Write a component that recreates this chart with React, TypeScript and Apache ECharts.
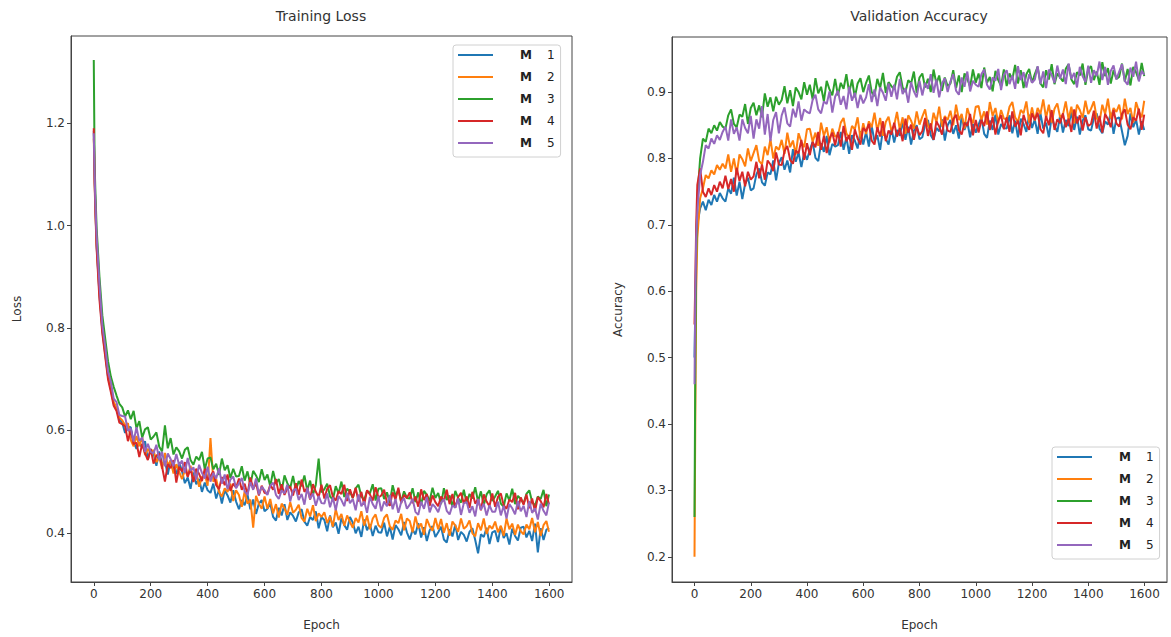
import { useEffect, useRef } from 'react';
import * as echarts from 'echarts';

const epochs = [
  0, 3, 6,
  10, 20, 30, 40, 50, 60, 70, 80, 90, 100,
  110, 120, 130, 140, 150, 160, 170, 180, 190, 200,
  210, 220, 230, 240, 250, 260, 270, 280, 290, 300,
  310, 320, 330, 340, 350, 360, 370, 380, 390, 400,
  410, 420, 430, 440, 450, 460, 470, 480, 490, 500,
  510, 520, 530, 540, 550, 560, 570, 580, 590, 600,
  610, 620, 630, 640, 650, 660, 670, 680, 690, 700,
  710, 720, 730, 740, 750, 760, 770, 780, 790, 800,
  810, 820, 830, 840, 850, 860, 870, 880, 890, 900,
  910, 920, 930, 940, 950, 960, 970, 980, 990, 1000,
  1010, 1020, 1030, 1040, 1050, 1060, 1070, 1080, 1090, 1100,
  1110, 1120, 1130, 1140, 1150, 1160, 1170, 1180, 1190, 1200,
  1210, 1220, 1230, 1240, 1250, 1260, 1270, 1280, 1290, 1300,
  1310, 1320, 1330, 1340, 1350, 1360, 1370, 1380, 1390, 1400,
  1410, 1420, 1430, 1440, 1450, 1460, 1470, 1480, 1490, 1500,
  1510, 1520, 1530, 1540, 1550, 1560, 1570, 1580, 1590, 1599,
];

const modelNames = ['M 1', 'M 2', 'M 3', 'M 4', 'M 5'];
const modelColors = ['#1f77b4', '#ff7f0e', '#2ca02c', '#d62728', '#9467bd'];
const xTicks = [0, 200, 400, 600, 800, 1000, 1200, 1400, 1600];
const lossTicks = [0.4, 0.6, 0.8, 1.0, 1.2];
const accTicks = [0.2, 0.3, 0.4, 0.5, 0.6, 0.7, 0.8, 0.9];

// ---- Training loss ----
const lossM1 = [
  1.185, 1.09, 1.03,
  0.96, 0.865, 0.795, 0.75, 0.705, 0.68, 0.652, 0.642, 0.622, 0.615,
  0.595, 0.607, 0.606, 0.577, 0.564, 0.576, 0.566, 0.579, 0.543, 0.563,
  0.556, 0.531, 0.559, 0.533, 0.539, 0.514, 0.542, 0.526, 0.515, 0.538,
  0.520, 0.497, 0.508, 0.486, 0.518, 0.495, 0.505, 0.480, 0.498, 0.483,
  0.478, 0.496, 0.467, 0.484, 0.457, 0.483, 0.473, 0.459, 0.483, 0.461,
  0.446, 0.464, 0.454, 0.475, 0.446, 0.465, 0.437, 0.457, 0.464, 0.442,
  0.447, 0.457, 0.431, 0.424, 0.449, 0.434, 0.456, 0.425, 0.440, 0.433,
  0.422, 0.440, 0.446, 0.422, 0.414, 0.431, 0.425, 0.442, 0.409, 0.431,
  0.425, 0.403, 0.434, 0.411, 0.420, 0.398, 0.429, 0.415, 0.406, 0.431,
  0.420, 0.399, 0.412, 0.392, 0.426, 0.405, 0.417, 0.394, 0.414, 0.401,
  0.400, 0.420, 0.393, 0.412, 0.387, 0.415, 0.407, 0.395, 0.421, 0.401,
  0.387, 0.406, 0.397, 0.419, 0.391, 0.411, 0.384, 0.405, 0.413, 0.392,
  0.401, 0.412, 0.387, 0.381, 0.407, 0.393, 0.416, 0.386, 0.402, 0.396,
  0.383, 0.402, 0.409, 0.386, 0.360, 0.397, 0.392, 0.410, 0.378, 0.401,
  0.404, 0.382, 0.413, 0.390, 0.399, 0.377, 0.408, 0.394, 0.385, 0.410,
  0.412, 0.391, 0.404, 0.384, 0.418, 0.362, 0.409, 0.386, 0.406, 0.410,
];
const lossM2 = [
  1.17, 1.09, 1.03,
  0.965, 0.87, 0.80, 0.755, 0.71, 0.685, 0.655, 0.645, 0.625, 0.62,
  0.610, 0.614, 0.581, 0.569, 0.589, 0.569, 0.587, 0.552, 0.564, 0.555,
  0.562, 0.538, 0.548, 0.525, 0.556, 0.532, 0.541, 0.516, 0.534, 0.519,
  0.505, 0.522, 0.511, 0.531, 0.501, 0.519, 0.490, 0.509, 0.515, 0.492,
  0.585, 0.500, 0.505, 0.480, 0.471, 0.487, 0.480, 0.496, 0.462, 0.483,
  0.474, 0.451, 0.481, 0.457, 0.465, 0.410, 0.472, 0.457, 0.447, 0.471,
  0.447, 0.466, 0.438, 0.456, 0.430, 0.457, 0.448, 0.435, 0.460, 0.439,
  0.445, 0.455, 0.429, 0.422, 0.447, 0.432, 0.454, 0.423, 0.438, 0.431,
  0.440, 0.419, 0.432, 0.412, 0.446, 0.425, 0.437, 0.414, 0.434, 0.421,
  0.410, 0.429, 0.420, 0.442, 0.414, 0.434, 0.407, 0.428, 0.436, 0.415,
  0.410, 0.429, 0.436, 0.413, 0.406, 0.424, 0.419, 0.437, 0.405, 0.428,
  0.423, 0.401, 0.432, 0.409, 0.418, 0.396, 0.427, 0.413, 0.404, 0.429,
  0.407, 0.427, 0.400, 0.419, 0.394, 0.422, 0.414, 0.402, 0.428, 0.408,
  0.413, 0.424, 0.399, 0.393, 0.419, 0.405, 0.428, 0.398, 0.414, 0.408,
  0.422, 0.401, 0.414, 0.394, 0.428, 0.407, 0.418, 0.396, 0.416, 0.403,
  0.397, 0.416, 0.407, 0.429, 0.401, 0.421, 0.394, 0.415, 0.423, 0.402,
];
const lossM3 = [
  1.323, 1.12, 1.06,
  0.995, 0.90, 0.825, 0.78, 0.735, 0.705, 0.685, 0.668, 0.652, 0.645,
  0.627, 0.639, 0.622, 0.638, 0.604, 0.618, 0.586, 0.602, 0.606, 0.582,
  0.588, 0.596, 0.568, 0.559, 0.610, 0.565, 0.585, 0.553, 0.567, 0.559,
  0.545, 0.562, 0.567, 0.542, 0.533, 0.549, 0.542, 0.558, 0.524, 0.545,
  0.547, 0.524, 0.535, 0.513, 0.545, 0.522, 0.532, 0.507, 0.525, 0.510,
  0.511, 0.530, 0.502, 0.520, 0.494, 0.521, 0.512, 0.499, 0.524, 0.503,
  0.514, 0.491, 0.521, 0.497, 0.505, 0.482, 0.512, 0.497, 0.487, 0.511,
  0.483, 0.501, 0.491, 0.512, 0.483, 0.502, 0.474, 0.494, 0.545, 0.479,
  0.485, 0.496, 0.471, 0.465, 0.491, 0.477, 0.500, 0.470, 0.486, 0.480,
  0.468, 0.487, 0.494, 0.471, 0.464, 0.482, 0.477, 0.495, 0.463, 0.486,
  0.487, 0.466, 0.479, 0.459, 0.493, 0.472, 0.484, 0.461, 0.481, 0.468,
  0.467, 0.487, 0.460, 0.479, 0.454, 0.482, 0.474, 0.462, 0.488, 0.468,
  0.478, 0.456, 0.487, 0.464, 0.473, 0.451, 0.482, 0.468, 0.459, 0.484,
  0.457, 0.476, 0.467, 0.489, 0.461, 0.481, 0.454, 0.475, 0.483, 0.462,
  0.471, 0.482, 0.457, 0.451, 0.477, 0.463, 0.486, 0.456, 0.472, 0.466,
  0.457, 0.476, 0.483, 0.460, 0.453, 0.471, 0.466, 0.484, 0.452, 0.475,
];
const lossM4 = [
  1.19, 1.08, 1.02,
  0.955, 0.855, 0.79, 0.745, 0.70, 0.675, 0.648, 0.638, 0.615, 0.612,
  0.608, 0.579, 0.602, 0.573, 0.576, 0.548, 0.574, 0.555, 0.542, 0.564,
  0.535, 0.551, 0.555, 0.529, 0.500, 0.534, 0.526, 0.542, 0.498, 0.529,
  0.520, 0.538, 0.509, 0.526, 0.499, 0.525, 0.515, 0.501, 0.525, 0.503,
  0.511, 0.520, 0.493, 0.485, 0.509, 0.493, 0.514, 0.482, 0.496, 0.488,
  0.506, 0.484, 0.496, 0.475, 0.508, 0.486, 0.497, 0.473, 0.492, 0.478,
  0.476, 0.494, 0.484, 0.505, 0.476, 0.495, 0.474, 0.487, 0.490, 0.473,
  0.497, 0.474, 0.504, 0.480, 0.488, 0.465, 0.495, 0.480, 0.470, 0.494,
  0.467, 0.486, 0.493, 0.470, 0.463, 0.481, 0.476, 0.494, 0.462, 0.485,
  0.468, 0.488, 0.461, 0.480, 0.455, 0.483, 0.475, 0.463, 0.489, 0.469,
  0.473, 0.484, 0.459, 0.453, 0.479, 0.465, 0.488, 0.458, 0.474, 0.468,
  0.479, 0.458, 0.471, 0.451, 0.485, 0.464, 0.476, 0.453, 0.473, 0.460,
  0.452, 0.471, 0.462, 0.484, 0.456, 0.476, 0.449, 0.470, 0.478, 0.457,
  0.471, 0.449, 0.480, 0.457, 0.466, 0.444, 0.475, 0.461, 0.452, 0.477,
  0.451, 0.470, 0.477, 0.454, 0.447, 0.465, 0.460, 0.478, 0.446, 0.469,
  0.455, 0.475, 0.448, 0.467, 0.442, 0.470, 0.462, 0.450, 0.476, 0.456,
];
const lossM5 = [
  1.18, 1.10, 1.04,
  0.98, 0.885, 0.805, 0.765, 0.715, 0.695, 0.662, 0.655, 0.63, 0.628,
  0.627, 0.599, 0.604, 0.578, 0.606, 0.579, 0.586, 0.558, 0.574, 0.558,
  0.555, 0.572, 0.542, 0.558, 0.530, 0.555, 0.544, 0.530, 0.554, 0.532,
  0.541, 0.517, 0.546, 0.521, 0.528, 0.504, 0.533, 0.517, 0.506, 0.529,
  0.500, 0.517, 0.506, 0.526, 0.496, 0.514, 0.485, 0.504, 0.510, 0.487,
  0.497, 0.507, 0.481, 0.474, 0.499, 0.484, 0.506, 0.475, 0.490, 0.483,
  0.474, 0.492, 0.498, 0.474, 0.466, 0.483, 0.477, 0.494, 0.461, 0.483,
  0.486, 0.464, 0.476, 0.455, 0.488, 0.466, 0.477, 0.453, 0.472, 0.458,
  0.457, 0.477, 0.450, 0.469, 0.444, 0.472, 0.464, 0.452, 0.478, 0.458,
  0.466, 0.444, 0.475, 0.452, 0.461, 0.439, 0.470, 0.456, 0.447, 0.472,
  0.442, 0.461, 0.452, 0.474, 0.446, 0.466, 0.439, 0.460, 0.468, 0.447,
  0.455, 0.466, 0.441, 0.435, 0.461, 0.447, 0.470, 0.440, 0.456, 0.450,
  0.440, 0.459, 0.466, 0.443, 0.436, 0.454, 0.449, 0.467, 0.435, 0.458,
  0.460, 0.439, 0.452, 0.432, 0.466, 0.445, 0.457, 0.434, 0.454, 0.441,
  0.441, 0.461, 0.434, 0.453, 0.428, 0.456, 0.448, 0.436, 0.462, 0.442,
  0.453, 0.431, 0.462, 0.439, 0.448, 0.426, 0.457, 0.443, 0.434, 0.459,
];

// ---- Validation accuracy ----
const accM1 = [
  0.50, 0.58, 0.65,
  0.70, 0.725, 0.735, 0.722, 0.738, 0.730, 0.745, 0.735, 0.748, 0.740,
  0.735, 0.755, 0.747, 0.771, 0.744, 0.765, 0.739, 0.762, 0.771, 0.752,
  0.755, 0.776, 0.785, 0.764, 0.759, 0.779, 0.776, 0.797, 0.767, 0.793,
  0.802, 0.783, 0.797, 0.779, 0.814, 0.795, 0.809, 0.787, 0.809, 0.798,
  0.813, 0.825, 0.801, 0.796, 0.823, 0.810, 0.834, 0.805, 0.822, 0.818,
  0.820, 0.840, 0.813, 0.832, 0.807, 0.835, 0.827, 0.815, 0.841, 0.821,
  0.840, 0.818, 0.849, 0.826, 0.835, 0.813, 0.844, 0.830, 0.821, 0.846,
  0.824, 0.843, 0.834, 0.856, 0.828, 0.848, 0.821, 0.842, 0.850, 0.829,
  0.832, 0.851, 0.858, 0.835, 0.828, 0.846, 0.841, 0.859, 0.827, 0.850,
  0.858, 0.837, 0.850, 0.830, 0.864, 0.843, 0.855, 0.832, 0.852, 0.839,
  0.851, 0.862, 0.837, 0.831, 0.857, 0.843, 0.866, 0.836, 0.852, 0.846,
  0.845, 0.865, 0.838, 0.857, 0.832, 0.860, 0.852, 0.840, 0.866, 0.846,
  0.859, 0.837, 0.868, 0.845, 0.854, 0.832, 0.863, 0.849, 0.840, 0.865,
  0.839, 0.858, 0.849, 0.871, 0.843, 0.863, 0.836, 0.857, 0.865, 0.844,
  0.842, 0.861, 0.868, 0.845, 0.838, 0.856, 0.851, 0.869, 0.837, 0.860,
  0.862, 0.841, 0.820, 0.834, 0.868, 0.847, 0.859, 0.836, 0.856, 0.843,
];
const accM2 = [
  0.20, 0.42, 0.60,
  0.68, 0.74, 0.755, 0.775, 0.770, 0.782, 0.776, 0.790, 0.783, 0.792,
  0.785, 0.806, 0.780, 0.800, 0.776, 0.806, 0.799, 0.788, 0.815, 0.796,
  0.808, 0.820, 0.796, 0.791, 0.818, 0.805, 0.829, 0.800, 0.818, 0.813,
  0.828, 0.807, 0.839, 0.817, 0.827, 0.806, 0.838, 0.825, 0.817, 0.844,
  0.845, 0.825, 0.839, 0.819, 0.854, 0.834, 0.847, 0.824, 0.845, 0.833,
  0.835, 0.854, 0.861, 0.838, 0.831, 0.849, 0.844, 0.862, 0.830, 0.853,
  0.837, 0.856, 0.847, 0.869, 0.841, 0.861, 0.834, 0.855, 0.863, 0.842,
  0.850, 0.870, 0.843, 0.862, 0.837, 0.865, 0.857, 0.845, 0.871, 0.851,
  0.863, 0.874, 0.849, 0.843, 0.869, 0.855, 0.878, 0.848, 0.864, 0.858,
  0.872, 0.850, 0.881, 0.858, 0.867, 0.845, 0.876, 0.862, 0.853, 0.878,
  0.879, 0.858, 0.871, 0.851, 0.885, 0.864, 0.876, 0.853, 0.873, 0.860,
  0.859, 0.878, 0.885, 0.862, 0.855, 0.873, 0.868, 0.886, 0.854, 0.877,
  0.857, 0.876, 0.867, 0.889, 0.861, 0.881, 0.854, 0.875, 0.883, 0.862,
  0.866, 0.886, 0.859, 0.878, 0.853, 0.881, 0.873, 0.861, 0.887, 0.867,
  0.875, 0.886, 0.861, 0.855, 0.881, 0.867, 0.890, 0.860, 0.876, 0.870,
  0.881, 0.859, 0.890, 0.867, 0.876, 0.854, 0.885, 0.871, 0.862, 0.887,
];
const accM3 = [
  0.26, 0.50, 0.65,
  0.74, 0.80, 0.83, 0.825, 0.845, 0.838, 0.850, 0.842, 0.855, 0.848,
  0.845, 0.865, 0.874, 0.852, 0.847, 0.866, 0.863, 0.882, 0.852, 0.876,
  0.884, 0.865, 0.880, 0.862, 0.898, 0.878, 0.892, 0.871, 0.893, 0.881,
  0.888, 0.909, 0.883, 0.903, 0.879, 0.907, 0.900, 0.889, 0.915, 0.896,
  0.911, 0.889, 0.921, 0.898, 0.908, 0.886, 0.917, 0.904, 0.895, 0.920,
  0.895, 0.914, 0.905, 0.927, 0.899, 0.919, 0.892, 0.913, 0.921, 0.900,
  0.914, 0.925, 0.900, 0.894, 0.920, 0.906, 0.929, 0.899, 0.915, 0.909,
  0.904, 0.923, 0.930, 0.907, 0.900, 0.918, 0.913, 0.931, 0.899, 0.922,
  0.928, 0.907, 0.920, 0.900, 0.934, 0.913, 0.925, 0.902, 0.922, 0.909,
  0.913, 0.933, 0.906, 0.925, 0.900, 0.928, 0.920, 0.908, 0.934, 0.914,
  0.928, 0.906, 0.937, 0.914, 0.923, 0.901, 0.932, 0.918, 0.909, 0.934,
  0.909, 0.928, 0.919, 0.941, 0.913, 0.933, 0.906, 0.927, 0.935, 0.914,
  0.927, 0.938, 0.913, 0.907, 0.933, 0.919, 0.942, 0.912, 0.928, 0.922,
  0.916, 0.935, 0.942, 0.919, 0.912, 0.930, 0.925, 0.943, 0.911, 0.934,
  0.939, 0.918, 0.931, 0.911, 0.945, 0.924, 0.936, 0.913, 0.933, 0.920,
  0.923, 0.943, 0.916, 0.935, 0.910, 0.938, 0.930, 0.918, 0.944, 0.924,
];
const accM4 = [
  0.55, 0.62, 0.70,
  0.76, 0.785, 0.750, 0.742, 0.755, 0.745, 0.760, 0.750, 0.765, 0.755,
  0.774, 0.754, 0.769, 0.750, 0.786, 0.766, 0.780, 0.758, 0.780, 0.768,
  0.773, 0.795, 0.770, 0.791, 0.768, 0.797, 0.791, 0.781, 0.809, 0.791,
  0.790, 0.811, 0.819, 0.798, 0.792, 0.812, 0.808, 0.828, 0.798, 0.823,
  0.805, 0.825, 0.817, 0.840, 0.813, 0.834, 0.808, 0.830, 0.839, 0.820,
  0.840, 0.818, 0.849, 0.826, 0.835, 0.813, 0.844, 0.830, 0.821, 0.846,
  0.841, 0.852, 0.827, 0.821, 0.847, 0.833, 0.856, 0.826, 0.842, 0.836,
  0.854, 0.833, 0.846, 0.826, 0.860, 0.839, 0.851, 0.828, 0.848, 0.835,
  0.841, 0.861, 0.834, 0.853, 0.828, 0.856, 0.848, 0.836, 0.862, 0.842,
  0.840, 0.859, 0.866, 0.843, 0.836, 0.854, 0.849, 0.867, 0.835, 0.858,
  0.839, 0.858, 0.849, 0.871, 0.843, 0.863, 0.836, 0.857, 0.865, 0.844,
  0.862, 0.840, 0.871, 0.848, 0.857, 0.835, 0.866, 0.852, 0.843, 0.868,
  0.858, 0.869, 0.844, 0.838, 0.864, 0.850, 0.873, 0.843, 0.859, 0.853,
  0.868, 0.847, 0.860, 0.840, 0.874, 0.853, 0.865, 0.842, 0.862, 0.849,
  0.852, 0.872, 0.845, 0.864, 0.839, 0.867, 0.859, 0.847, 0.873, 0.853,
  0.848, 0.867, 0.874, 0.851, 0.844, 0.862, 0.857, 0.875, 0.843, 0.866,
];
const accM5 = [
  0.46, 0.60, 0.68,
  0.72, 0.775, 0.795, 0.820, 0.815, 0.830, 0.822, 0.835, 0.828, 0.840,
  0.848, 0.827, 0.859, 0.837, 0.847, 0.827, 0.859, 0.846, 0.838, 0.864,
  0.830, 0.859, 0.845, 0.879, 0.836, 0.867, 0.826, 0.858, 0.870, 0.838,
  0.865, 0.877, 0.853, 0.848, 0.875, 0.862, 0.886, 0.857, 0.874, 0.870,
  0.868, 0.888, 0.896, 0.874, 0.868, 0.886, 0.882, 0.901, 0.869, 0.893,
  0.902, 0.881, 0.894, 0.874, 0.908, 0.887, 0.899, 0.876, 0.896, 0.883,
  0.892, 0.912, 0.885, 0.904, 0.879, 0.907, 0.899, 0.887, 0.913, 0.893,
  0.911, 0.889, 0.920, 0.897, 0.906, 0.884, 0.915, 0.901, 0.892, 0.917,
  0.895, 0.914, 0.905, 0.927, 0.899, 0.919, 0.892, 0.913, 0.921, 0.900,
  0.916, 0.927, 0.902, 0.896, 0.922, 0.908, 0.931, 0.901, 0.917, 0.911,
  0.908, 0.927, 0.934, 0.911, 0.904, 0.922, 0.917, 0.935, 0.903, 0.926,
  0.933, 0.912, 0.925, 0.905, 0.939, 0.918, 0.930, 0.907, 0.927, 0.914,
  0.919, 0.939, 0.912, 0.931, 0.906, 0.934, 0.926, 0.914, 0.940, 0.920,
  0.934, 0.912, 0.943, 0.920, 0.929, 0.907, 0.938, 0.924, 0.915, 0.940,
  0.914, 0.933, 0.924, 0.946, 0.918, 0.938, 0.911, 0.932, 0.940, 0.919,
  0.931, 0.942, 0.917, 0.911, 0.937, 0.923, 0.946, 0.916, 0.932, 0.926,
];

const lossData = [lossM1, lossM2, lossM3, lossM4, lossM5];
const accData = [accM1, accM2, accM3, accM4, accM5];

const FONT = 'DejaVu Sans';
const TEXT = '#333';
const AXIS = '#444';

function makeAxis(gridIndex: number, ticks: number[], fmt: (v: number) => string, extra: any) {
  return {
    type: 'value',
    gridIndex,
    axisLine: { show: true, onZero: false, lineStyle: { color: AXIS, width: 1 } },
    axisTick: { show: true, inside: false, length: 4, lineStyle: { color: AXIS }, customValues: ticks },
    axisLabel: { color: TEXT, fontSize: 12, fontFamily: FONT, margin: 6, customValues: ticks, formatter: fmt },
    splitLine: { show: false },
    nameLocation: 'middle',
    nameTextStyle: { color: TEXT, fontSize: 12, fontFamily: FONT },
    ...extra,
  };
}

function makeLegend(left: number, top: number) {
  return {
    data: modelNames,
    orient: 'vertical',
    left,
    top,
    icon: 'rect',
    itemWidth: 35,
    itemHeight: 2,
    itemGap: 10,
    padding: [4, 6, 8, 5],
    backgroundColor: 'rgba(255,255,255,0.8)',
    borderColor: '#d0d0d0',
    borderWidth: 1,
    borderRadius: 3,
    selectedMode: false,
    formatter: (name: string) => `{pad| }{b|M}{gap| }{n|${name.split(' ')[1]}}`,
    textStyle: {
      fontFamily: FONT,
      fontSize: 12,
      color: '#222',
      rich: {
        pad: { width: 22, fontSize: 12, lineHeight: 15 },
        b: { fontWeight: 'bold', fontSize: 12, fontFamily: FONT, color: '#222', lineHeight: 15 },
        gap: { width: 15, fontSize: 12, lineHeight: 15 },
        n: { fontSize: 12, fontFamily: FONT, color: '#222', lineHeight: 15 },
      },
    },
  };
}

export default function App() {
  const ref = useRef<HTMLDivElement>(null);
  useEffect(() => {
    const chart = echarts.init(ref.current!, null, { renderer: 'svg' });
    const series: any[] = [];
    const addSeries = (data: number[][], axis: number) => {
      data.forEach((vals, k) => {
        series.push({
          name: modelNames[k],
          type: 'line',
          xAxisIndex: axis,
          yAxisIndex: axis,
          showSymbol: false,
          color: modelColors[k],
          lineStyle: { width: 2, color: modelColors[k] },
          data: epochs.map((e, i) => [e, vals[i]]),
        });
      });
    };
    addSeries(lossData, 0);
    addSeries(accData, 1);
    const option: any = {
      animation: false,
      backgroundColor: '#fff',
      title: [
        { text: 'Training Loss', left: 321, top: 9, padding: 0, textAlign: 'center', textStyle: { fontSize: 14, fontWeight: 'normal', color: TEXT, fontFamily: FONT } },
        { text: 'Validation Accuracy', left: 919, top: 9, padding: 0, textAlign: 'center', textStyle: { fontSize: 14, fontWeight: 'normal', color: TEXT, fontFamily: FONT } },
      ],
      grid: [
        { left: 71, top: 36, width: 501, height: 546, show: true, borderColor: AXIS, borderWidth: 1, backgroundColor: 'transparent' },
        { left: 672, top: 37, width: 495, height: 545, show: true, borderColor: AXIS, borderWidth: 1, backgroundColor: 'transparent' },
      ],
      xAxis: [
        makeAxis(0, xTicks, (v) => String(v), { min: -80, max: 1680, name: 'Epoch', nameGap: 37 }),
        makeAxis(1, xTicks, (v) => String(v), { min: -80, max: 1680, name: 'Epoch', nameGap: 37 }),
      ],
      yAxis: [
        makeAxis(0, lossTicks, (v) => v.toFixed(1), { min: 0.304, max: 1.37, name: 'Loss', nameGap: 48 }),
        makeAxis(1, accTicks, (v) => v.toFixed(1), { min: 0.162, max: 0.983, name: 'Accuracy', nameGap: 48 }),
      ],
      legend: [makeLegend(453, 45), makeLegend(1052, 447)],
      series,
    };
    chart.setOption(option);
    return () => chart.dispose();
  }, []);
  return <div ref={ref} style={{ position: 'fixed', left: 0, top: 0, width: 1171, height: 637 }} />;
}
